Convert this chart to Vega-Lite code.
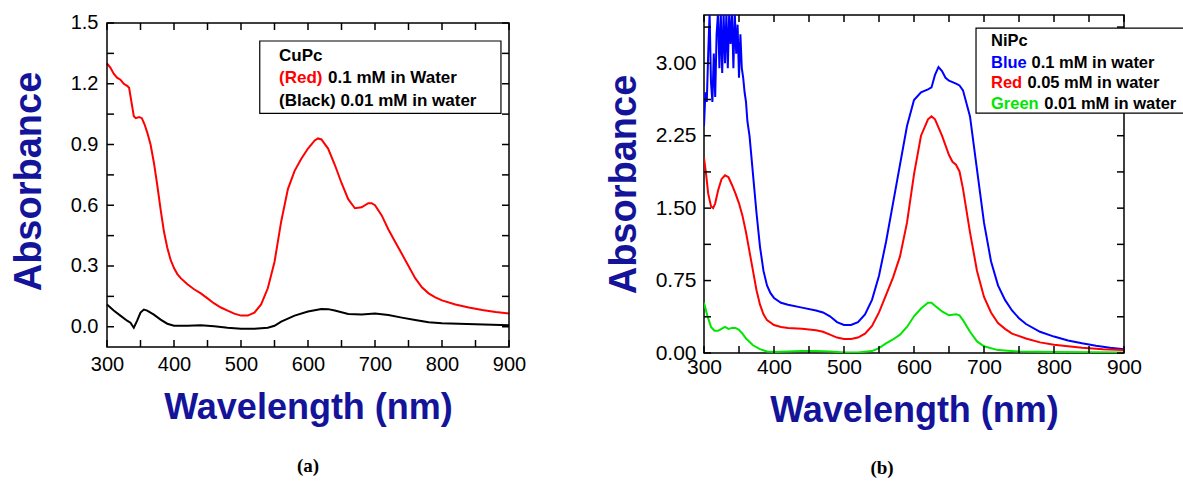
{
  "$schema": "https://vega.github.io/schema/vega-lite/v6.json",
  "padding": {"left": 10, "top": 12, "right": 0, "bottom": 5},
  "spacing": 78,
  "resolve": {"scale": {"color": "independent"}},
  "config": {
    "view": {"stroke": "black", "strokeWidth": 1.5},
    "axis": {
      "domain": false, "grid": false, "ticks": false, "tickSize": 0,
      "labelFont": "Liberation Sans", "titleFont": "Liberation Sans", "labelColor": "black",
      "titleColor": "#14149a", "titleFontWeight": "bold", "labelOverlap": false, "labelFlush": false,
      "labelFontSize": 20, "titleFontSize": 36
    },
    "text": {"font": "Liberation Sans", "fontWeight": "bold", "align": "left", "baseline": "middle"}
  },
  "datasets": {
    "xt": [{"wl":300},{"wl":350},{"wl":400},{"wl":450},{"wl":500},{"wl":550},{"wl":600},{"wl":650},{"wl":700},{"wl":750},{"wl":800},{"wl":850},{"wl":900}],
    "yta": [{"a":0},{"a":0.15},{"a":0.3},{"a":0.45},{"a":0.6},{"a":0.75},{"a":0.9},{"a":1.05},{"a":1.2},{"a":1.35},{"a":1.5}],
    "ytb": [{"a":0},{"a":0.375},{"a":0.75},{"a":1.125},{"a":1.5},{"a":1.875},{"a":2.25},{"a":2.625},{"a":3.0},{"a":3.375}],
    "cupc": [
      {"wl":300,"a":1.30,"s":"0.1 mM"},{"wl":305,"a":1.28,"s":"0.1 mM"},{"wl":310,"a":1.25,"s":"0.1 mM"},{"wl":315,"a":1.23,"s":"0.1 mM"},{"wl":320,"a":1.22,"s":"0.1 mM"},{"wl":325,"a":1.20,"s":"0.1 mM"},{"wl":330,"a":1.19,"s":"0.1 mM"},{"wl":333,"a":1.18,"s":"0.1 mM"},{"wl":337,"a":1.10,"s":"0.1 mM"},{"wl":340,"a":1.04,"s":"0.1 mM"},{"wl":343,"a":1.03,"s":"0.1 mM"},{"wl":348,"a":1.035,"s":"0.1 mM"},{"wl":352,"a":1.03,"s":"0.1 mM"},{"wl":356,"a":1.00,"s":"0.1 mM"},{"wl":360,"a":0.96,"s":"0.1 mM"},{"wl":365,"a":0.90,"s":"0.1 mM"},{"wl":370,"a":0.81,"s":"0.1 mM"},{"wl":375,"a":0.70,"s":"0.1 mM"},{"wl":380,"a":0.58,"s":"0.1 mM"},{"wl":385,"a":0.47,"s":"0.1 mM"},{"wl":390,"a":0.39,"s":"0.1 mM"},{"wl":395,"a":0.33,"s":"0.1 mM"},{"wl":400,"a":0.29,"s":"0.1 mM"},{"wl":405,"a":0.26,"s":"0.1 mM"},{"wl":410,"a":0.24,"s":"0.1 mM"},{"wl":420,"a":0.21,"s":"0.1 mM"},{"wl":430,"a":0.185,"s":"0.1 mM"},{"wl":440,"a":0.165,"s":"0.1 mM"},{"wl":450,"a":0.14,"s":"0.1 mM"},{"wl":460,"a":0.115,"s":"0.1 mM"},{"wl":470,"a":0.095,"s":"0.1 mM"},{"wl":480,"a":0.08,"s":"0.1 mM"},{"wl":490,"a":0.065,"s":"0.1 mM"},{"wl":500,"a":0.055,"s":"0.1 mM"},{"wl":510,"a":0.055,"s":"0.1 mM"},{"wl":520,"a":0.07,"s":"0.1 mM"},{"wl":530,"a":0.11,"s":"0.1 mM"},{"wl":540,"a":0.19,"s":"0.1 mM"},{"wl":550,"a":0.32,"s":"0.1 mM"},{"wl":560,"a":0.52,"s":"0.1 mM"},{"wl":570,"a":0.68,"s":"0.1 mM"},{"wl":580,"a":0.77,"s":"0.1 mM"},{"wl":590,"a":0.83,"s":"0.1 mM"},{"wl":600,"a":0.88,"s":"0.1 mM"},{"wl":610,"a":0.92,"s":"0.1 mM"},{"wl":615,"a":0.93,"s":"0.1 mM"},{"wl":620,"a":0.925,"s":"0.1 mM"},{"wl":630,"a":0.88,"s":"0.1 mM"},{"wl":640,"a":0.80,"s":"0.1 mM"},{"wl":650,"a":0.71,"s":"0.1 mM"},{"wl":660,"a":0.63,"s":"0.1 mM"},{"wl":670,"a":0.585,"s":"0.1 mM"},{"wl":680,"a":0.59,"s":"0.1 mM"},{"wl":690,"a":0.61,"s":"0.1 mM"},{"wl":695,"a":0.61,"s":"0.1 mM"},{"wl":700,"a":0.60,"s":"0.1 mM"},{"wl":710,"a":0.55,"s":"0.1 mM"},{"wl":720,"a":0.48,"s":"0.1 mM"},{"wl":730,"a":0.42,"s":"0.1 mM"},{"wl":740,"a":0.36,"s":"0.1 mM"},{"wl":750,"a":0.30,"s":"0.1 mM"},{"wl":760,"a":0.24,"s":"0.1 mM"},{"wl":770,"a":0.195,"s":"0.1 mM"},{"wl":780,"a":0.165,"s":"0.1 mM"},{"wl":790,"a":0.145,"s":"0.1 mM"},{"wl":800,"a":0.13,"s":"0.1 mM"},{"wl":820,"a":0.11,"s":"0.1 mM"},{"wl":840,"a":0.095,"s":"0.1 mM"},{"wl":860,"a":0.083,"s":"0.1 mM"},{"wl":880,"a":0.073,"s":"0.1 mM"},{"wl":900,"a":0.065,"s":"0.1 mM"},
      {"wl":300,"a":0.11,"s":"0.01 mM"},{"wl":310,"a":0.08,"s":"0.01 mM"},{"wl":320,"a":0.055,"s":"0.01 mM"},{"wl":330,"a":0.03,"s":"0.01 mM"},{"wl":335,"a":0.02,"s":"0.01 mM"},{"wl":340,"a":-0.005,"s":"0.01 mM"},{"wl":345,"a":0.03,"s":"0.01 mM"},{"wl":350,"a":0.07,"s":"0.01 mM"},{"wl":355,"a":0.085,"s":"0.01 mM"},{"wl":360,"a":0.08,"s":"0.01 mM"},{"wl":370,"a":0.06,"s":"0.01 mM"},{"wl":380,"a":0.035,"s":"0.01 mM"},{"wl":390,"a":0.015,"s":"0.01 mM"},{"wl":400,"a":0.005,"s":"0.01 mM"},{"wl":420,"a":0.005,"s":"0.01 mM"},{"wl":440,"a":0.008,"s":"0.01 mM"},{"wl":460,"a":0.003,"s":"0.01 mM"},{"wl":480,"a":-0.005,"s":"0.01 mM"},{"wl":500,"a":-0.01,"s":"0.01 mM"},{"wl":520,"a":-0.01,"s":"0.01 mM"},{"wl":540,"a":-0.005,"s":"0.01 mM"},{"wl":550,"a":0.005,"s":"0.01 mM"},{"wl":560,"a":0.025,"s":"0.01 mM"},{"wl":580,"a":0.055,"s":"0.01 mM"},{"wl":600,"a":0.075,"s":"0.01 mM"},{"wl":620,"a":0.088,"s":"0.01 mM"},{"wl":630,"a":0.087,"s":"0.01 mM"},{"wl":640,"a":0.08,"s":"0.01 mM"},{"wl":660,"a":0.063,"s":"0.01 mM"},{"wl":680,"a":0.06,"s":"0.01 mM"},{"wl":700,"a":0.065,"s":"0.01 mM"},{"wl":720,"a":0.058,"s":"0.01 mM"},{"wl":740,"a":0.045,"s":"0.01 mM"},{"wl":760,"a":0.033,"s":"0.01 mM"},{"wl":780,"a":0.022,"s":"0.01 mM"},{"wl":800,"a":0.017,"s":"0.01 mM"},{"wl":850,"a":0.012,"s":"0.01 mM"},{"wl":900,"a":0.008,"s":"0.01 mM"}
    ],
    "nipc": [
      {"wl":300,"a":2.35,"s":"0.1 mM"},{"wl":302,"a":2.7,"s":"0.1 mM"},{"wl":304,"a":2.6,"s":"0.1 mM"},{"wl":306,"a":3.1,"s":"0.1 mM"},{"wl":308,"a":3.52,"s":"0.1 mM"},{"wl":310,"a":2.8,"s":"0.1 mM"},{"wl":312,"a":2.6,"s":"0.1 mM"},{"wl":314,"a":3.1,"s":"0.1 mM"},{"wl":316,"a":2.65,"s":"0.1 mM"},{"wl":318,"a":3.3,"s":"0.1 mM"},{"wl":320,"a":3.52,"s":"0.1 mM"},{"wl":322,"a":2.95,"s":"0.1 mM"},{"wl":324,"a":3.52,"s":"0.1 mM"},{"wl":326,"a":2.9,"s":"0.1 mM"},{"wl":328,"a":3.52,"s":"0.1 mM"},{"wl":330,"a":3.0,"s":"0.1 mM"},{"wl":332,"a":3.52,"s":"0.1 mM"},{"wl":334,"a":2.95,"s":"0.1 mM"},{"wl":336,"a":3.52,"s":"0.1 mM"},{"wl":338,"a":3.2,"s":"0.1 mM"},{"wl":340,"a":3.52,"s":"0.1 mM"},{"wl":342,"a":2.95,"s":"0.1 mM"},{"wl":344,"a":3.52,"s":"0.1 mM"},{"wl":346,"a":3.1,"s":"0.1 mM"},{"wl":348,"a":3.4,"s":"0.1 mM"},{"wl":350,"a":2.85,"s":"0.1 mM"},{"wl":352,"a":3.3,"s":"0.1 mM"},{"wl":354,"a":2.95,"s":"0.1 mM"},{"wl":356,"a":2.85,"s":"0.1 mM"},{"wl":358,"a":2.7,"s":"0.1 mM"},{"wl":360,"a":2.6,"s":"0.1 mM"},{"wl":362,"a":2.4,"s":"0.1 mM"},{"wl":365,"a":2.25,"s":"0.1 mM"},{"wl":370,"a":1.85,"s":"0.1 mM"},{"wl":375,"a":1.45,"s":"0.1 mM"},{"wl":380,"a":1.1,"s":"0.1 mM"},{"wl":385,"a":0.85,"s":"0.1 mM"},{"wl":390,"a":0.7,"s":"0.1 mM"},{"wl":395,"a":0.62,"s":"0.1 mM"},{"wl":400,"a":0.57,"s":"0.1 mM"},{"wl":410,"a":0.52,"s":"0.1 mM"},{"wl":420,"a":0.5,"s":"0.1 mM"},{"wl":440,"a":0.47,"s":"0.1 mM"},{"wl":460,"a":0.44,"s":"0.1 mM"},{"wl":470,"a":0.42,"s":"0.1 mM"},{"wl":480,"a":0.38,"s":"0.1 mM"},{"wl":490,"a":0.32,"s":"0.1 mM"},{"wl":500,"a":0.29,"s":"0.1 mM"},{"wl":510,"a":0.29,"s":"0.1 mM"},{"wl":520,"a":0.32,"s":"0.1 mM"},{"wl":530,"a":0.4,"s":"0.1 mM"},{"wl":540,"a":0.55,"s":"0.1 mM"},{"wl":550,"a":0.8,"s":"0.1 mM"},{"wl":560,"a":1.15,"s":"0.1 mM"},{"wl":570,"a":1.55,"s":"0.1 mM"},{"wl":580,"a":1.95,"s":"0.1 mM"},{"wl":590,"a":2.35,"s":"0.1 mM"},{"wl":600,"a":2.62,"s":"0.1 mM"},{"wl":610,"a":2.7,"s":"0.1 mM"},{"wl":620,"a":2.73,"s":"0.1 mM"},{"wl":625,"a":2.75,"s":"0.1 mM"},{"wl":630,"a":2.88,"s":"0.1 mM"},{"wl":635,"a":2.96,"s":"0.1 mM"},{"wl":640,"a":2.92,"s":"0.1 mM"},{"wl":645,"a":2.85,"s":"0.1 mM"},{"wl":650,"a":2.82,"s":"0.1 mM"},{"wl":660,"a":2.79,"s":"0.1 mM"},{"wl":665,"a":2.77,"s":"0.1 mM"},{"wl":670,"a":2.72,"s":"0.1 mM"},{"wl":680,"a":2.45,"s":"0.1 mM"},{"wl":690,"a":1.9,"s":"0.1 mM"},{"wl":700,"a":1.35,"s":"0.1 mM"},{"wl":710,"a":0.95,"s":"0.1 mM"},{"wl":720,"a":0.7,"s":"0.1 mM"},{"wl":730,"a":0.55,"s":"0.1 mM"},{"wl":740,"a":0.44,"s":"0.1 mM"},{"wl":750,"a":0.36,"s":"0.1 mM"},{"wl":760,"a":0.3,"s":"0.1 mM"},{"wl":780,"a":0.22,"s":"0.1 mM"},{"wl":800,"a":0.17,"s":"0.1 mM"},{"wl":820,"a":0.13,"s":"0.1 mM"},{"wl":840,"a":0.1,"s":"0.1 mM"},{"wl":860,"a":0.075,"s":"0.1 mM"},{"wl":880,"a":0.055,"s":"0.1 mM"},{"wl":900,"a":0.04,"s":"0.1 mM"},
      {"wl":300,"a":2.02,"s":"0.05 mM"},{"wl":303,"a":1.85,"s":"0.05 mM"},{"wl":306,"a":1.65,"s":"0.05 mM"},{"wl":310,"a":1.52,"s":"0.05 mM"},{"wl":313,"a":1.5,"s":"0.05 mM"},{"wl":316,"a":1.55,"s":"0.05 mM"},{"wl":320,"a":1.68,"s":"0.05 mM"},{"wl":325,"a":1.8,"s":"0.05 mM"},{"wl":330,"a":1.84,"s":"0.05 mM"},{"wl":335,"a":1.82,"s":"0.05 mM"},{"wl":340,"a":1.74,"s":"0.05 mM"},{"wl":345,"a":1.65,"s":"0.05 mM"},{"wl":350,"a":1.55,"s":"0.05 mM"},{"wl":355,"a":1.42,"s":"0.05 mM"},{"wl":360,"a":1.25,"s":"0.05 mM"},{"wl":365,"a":1.05,"s":"0.05 mM"},{"wl":370,"a":0.85,"s":"0.05 mM"},{"wl":375,"a":0.65,"s":"0.05 mM"},{"wl":380,"a":0.5,"s":"0.05 mM"},{"wl":385,"a":0.4,"s":"0.05 mM"},{"wl":390,"a":0.34,"s":"0.05 mM"},{"wl":400,"a":0.29,"s":"0.05 mM"},{"wl":410,"a":0.27,"s":"0.05 mM"},{"wl":420,"a":0.26,"s":"0.05 mM"},{"wl":440,"a":0.25,"s":"0.05 mM"},{"wl":460,"a":0.235,"s":"0.05 mM"},{"wl":470,"a":0.22,"s":"0.05 mM"},{"wl":480,"a":0.19,"s":"0.05 mM"},{"wl":490,"a":0.16,"s":"0.05 mM"},{"wl":500,"a":0.145,"s":"0.05 mM"},{"wl":510,"a":0.145,"s":"0.05 mM"},{"wl":520,"a":0.16,"s":"0.05 mM"},{"wl":530,"a":0.2,"s":"0.05 mM"},{"wl":540,"a":0.28,"s":"0.05 mM"},{"wl":550,"a":0.42,"s":"0.05 mM"},{"wl":560,"a":0.6,"s":"0.05 mM"},{"wl":570,"a":0.78,"s":"0.05 mM"},{"wl":580,"a":1.0,"s":"0.05 mM"},{"wl":590,"a":1.35,"s":"0.05 mM"},{"wl":600,"a":1.85,"s":"0.05 mM"},{"wl":610,"a":2.25,"s":"0.05 mM"},{"wl":620,"a":2.42,"s":"0.05 mM"},{"wl":625,"a":2.45,"s":"0.05 mM"},{"wl":630,"a":2.42,"s":"0.05 mM"},{"wl":640,"a":2.25,"s":"0.05 mM"},{"wl":650,"a":2.05,"s":"0.05 mM"},{"wl":655,"a":1.98,"s":"0.05 mM"},{"wl":660,"a":1.95,"s":"0.05 mM"},{"wl":665,"a":1.88,"s":"0.05 mM"},{"wl":670,"a":1.7,"s":"0.05 mM"},{"wl":680,"a":1.25,"s":"0.05 mM"},{"wl":690,"a":0.85,"s":"0.05 mM"},{"wl":700,"a":0.58,"s":"0.05 mM"},{"wl":710,"a":0.42,"s":"0.05 mM"},{"wl":720,"a":0.31,"s":"0.05 mM"},{"wl":730,"a":0.25,"s":"0.05 mM"},{"wl":740,"a":0.2,"s":"0.05 mM"},{"wl":760,"a":0.15,"s":"0.05 mM"},{"wl":780,"a":0.11,"s":"0.05 mM"},{"wl":800,"a":0.085,"s":"0.05 mM"},{"wl":840,"a":0.055,"s":"0.05 mM"},{"wl":870,"a":0.04,"s":"0.05 mM"},{"wl":900,"a":0.03,"s":"0.05 mM"},
      {"wl":300,"a":0.52,"s":"0.01 mM"},{"wl":305,"a":0.38,"s":"0.01 mM"},{"wl":310,"a":0.27,"s":"0.01 mM"},{"wl":315,"a":0.23,"s":"0.01 mM"},{"wl":320,"a":0.23,"s":"0.01 mM"},{"wl":325,"a":0.25,"s":"0.01 mM"},{"wl":330,"a":0.27,"s":"0.01 mM"},{"wl":335,"a":0.25,"s":"0.01 mM"},{"wl":340,"a":0.26,"s":"0.01 mM"},{"wl":345,"a":0.26,"s":"0.01 mM"},{"wl":350,"a":0.24,"s":"0.01 mM"},{"wl":355,"a":0.2,"s":"0.01 mM"},{"wl":360,"a":0.15,"s":"0.01 mM"},{"wl":370,"a":0.08,"s":"0.01 mM"},{"wl":380,"a":0.04,"s":"0.01 mM"},{"wl":390,"a":0.015,"s":"0.01 mM"},{"wl":400,"a":0.01,"s":"0.01 mM"},{"wl":420,"a":0.015,"s":"0.01 mM"},{"wl":440,"a":0.02,"s":"0.01 mM"},{"wl":460,"a":0.02,"s":"0.01 mM"},{"wl":480,"a":0.015,"s":"0.01 mM"},{"wl":500,"a":0.005,"s":"0.01 mM"},{"wl":520,"a":0.005,"s":"0.01 mM"},{"wl":540,"a":0.02,"s":"0.01 mM"},{"wl":550,"a":0.05,"s":"0.01 mM"},{"wl":560,"a":0.1,"s":"0.01 mM"},{"wl":570,"a":0.14,"s":"0.01 mM"},{"wl":580,"a":0.19,"s":"0.01 mM"},{"wl":590,"a":0.27,"s":"0.01 mM"},{"wl":600,"a":0.38,"s":"0.01 mM"},{"wl":610,"a":0.46,"s":"0.01 mM"},{"wl":620,"a":0.52,"s":"0.01 mM"},{"wl":625,"a":0.52,"s":"0.01 mM"},{"wl":630,"a":0.49,"s":"0.01 mM"},{"wl":640,"a":0.43,"s":"0.01 mM"},{"wl":650,"a":0.39,"s":"0.01 mM"},{"wl":660,"a":0.4,"s":"0.01 mM"},{"wl":665,"a":0.39,"s":"0.01 mM"},{"wl":670,"a":0.34,"s":"0.01 mM"},{"wl":680,"a":0.22,"s":"0.01 mM"},{"wl":690,"a":0.12,"s":"0.01 mM"},{"wl":700,"a":0.07,"s":"0.01 mM"},{"wl":720,"a":0.03,"s":"0.01 mM"},{"wl":750,"a":0.015,"s":"0.01 mM"},{"wl":800,"a":0.01,"s":"0.01 mM"},{"wl":900,"a":0.005,"s":"0.01 mM"}
    ],
    "one": [{}]
  },
  "hconcat": [
    {
      "width": 402, "height": 332,
      "view": {"stroke": null},
      "title": {"text": "(a)", "orient": "bottom", "font": "Liberation Serif", "fontSize": 19, "fontWeight": "bold", "color": "black", "offset": 32},
      "layer": [
        {
          "data": {"name": "cupc"},
          "mark": {"type": "line", "strokeWidth": 2},
          "encoding": {
            "x": {"field": "wl", "type": "quantitative", "scale": {"domain": [300, 900], "nice": false, "zero": false},
                  "axis": {"orient": "bottom", "values": [300,400,500,600,700,800,900], "title": "Wavelength (nm)", "labelPadding": 7, "titlePadding": 16}},
            "y": {"field": "a", "type": "quantitative", "scale": {"domain": [-0.1, 1.5395], "nice": false, "zero": false},
                  "axis": {"orient": "left", "values": [0,0.3,0.6,0.9,1.2,1.5], "format": ".1f", "title": "Absorbance", "titleFontSize": 38, "labelPadding": 9, "titlePadding": 22}},
            "color": {"field": "s", "type": "nominal", "scale": {"domain": ["0.1 mM", "0.01 mM"], "range": ["#ff0000", "#000000"]}, "legend": null}
          }
        },
        {
          "data": {"name": "one"},
          "mark": {"type": "rect", "fill": "transparent", "stroke": "black", "strokeWidth": 1.5},
          "encoding": {
            "x": {"datum": 300, "type": "quantitative"}, "x2": {"datum": 900},
            "y": {"datum": -0.1, "type": "quantitative"}, "y2": {"datum": 1.5}
          }
        },
        {"data": {"name": "xt"}, "mark": {"type": "tick", "orient": "vertical", "color": "black", "opacity": 1, "size": 7, "thickness": 1.5, "yOffset": -3.5}, "encoding": {"x": {"field": "wl", "type": "quantitative"}, "y": {"datum": -0.1, "type": "quantitative"}}},
        {"data": {"name": "xt"}, "mark": {"type": "tick", "orient": "vertical", "color": "black", "opacity": 1, "size": 7, "thickness": 1.5, "yOffset": 3.5}, "encoding": {"x": {"field": "wl", "type": "quantitative"}, "y": {"datum": 1.5, "type": "quantitative"}}},
        {"data": {"name": "yta"}, "mark": {"type": "tick", "orient": "horizontal", "color": "black", "opacity": 1, "size": 7, "thickness": 1.5, "xOffset": 3.5}, "encoding": {"y": {"field": "a", "type": "quantitative"}, "x": {"datum": 300, "type": "quantitative"}}},
        {"data": {"name": "yta"}, "mark": {"type": "tick", "orient": "horizontal", "color": "black", "opacity": 1, "size": 7, "thickness": 1.5, "xOffset": -3.5}, "encoding": {"y": {"field": "a", "type": "quantitative"}, "x": {"datum": 900, "type": "quantitative"}}},
        {
          "data": {"name": "one"},
          "mark": {"type": "rect", "fill": "white", "stroke": "black", "strokeWidth": 1.2},
          "encoding": {
            "x": {"datum": 528, "type": "quantitative"}, "x2": {"datum": 888},
            "y": {"datum": 1.411, "type": "quantitative"}, "y2": {"datum": 1.054}
          }
        },
        {
          "data": {"name": "one"},
          "mark": {"type": "text", "fontSize": 17, "color": "black", "text": "CuPc"},
          "encoding": {"x": {"datum": 556.7, "type": "quantitative"}, "y": {"datum": 1.337, "type": "quantitative"}}
        },
        {
          "data": {"name": "one"},
          "mark": {"type": "text", "fontSize": 17, "color": "#ff0000", "text": "(Red)"},
          "encoding": {"x": {"datum": 556.7, "type": "quantitative"}, "y": {"datum": 1.228, "type": "quantitative"}}
        },
        {
          "data": {"name": "one"},
          "mark": {"type": "text", "fontSize": 17, "color": "black", "text": "0.1 mM in Water"},
          "encoding": {"x": {"datum": 630, "type": "quantitative"}, "y": {"datum": 1.228, "type": "quantitative"}}
        },
        {
          "data": {"name": "one"},
          "mark": {"type": "text", "fontSize": 17, "color": "black", "text": "(Black) 0.01 mM in water"},
          "encoding": {"x": {"datum": 556.7, "type": "quantitative"}, "y": {"datum": 1.114, "type": "quantitative"}}
        }
      ]
    },
    {
      "width": 420, "height": 338,
      "title": {"text": "(b)", "orient": "bottom", "font": "Liberation Serif", "fontSize": 19, "fontWeight": "bold", "color": "black", "offset": 31, "dx": -32},
      "layer": [
        {
          "data": {"name": "nipc"},
          "mark": {"type": "line", "strokeWidth": 2, "clip": true},
          "encoding": {
            "x": {"field": "wl", "type": "quantitative", "scale": {"domain": [300, 900], "nice": false, "zero": false},
                  "axis": {"orient": "bottom", "values": [300,400,500,600,700,800,900], "title": "Wavelength (nm)", "labelFontSize": 21, "labelPadding": 3, "titlePadding": 16}},
            "y": {"field": "a", "type": "quantitative", "scale": {"domain": [0, 3.5], "nice": false, "zero": false},
                  "axis": {"orient": "left", "values": [0,0.75,1.5,2.25,3.0], "format": ".2f", "title": "Absorbance", "titleFontSize": 38, "labelFontSize": 21, "labelPadding": 8, "titlePadding": 12}},
            "color": {"field": "s", "type": "nominal", "scale": {"domain": ["0.1 mM", "0.05 mM", "0.01 mM"], "range": ["#0000ff", "#ff0000", "#00e600"]}, "legend": null}
          }
        },
        {"data": {"name": "xt"}, "mark": {"type": "tick", "orient": "vertical", "color": "black", "opacity": 1, "size": 7, "thickness": 1.5, "yOffset": -3.5}, "encoding": {"x": {"field": "wl", "type": "quantitative"}, "y": {"datum": 0, "type": "quantitative"}}},
        {"data": {"name": "xt"}, "mark": {"type": "tick", "orient": "vertical", "color": "black", "opacity": 1, "size": 7, "thickness": 1.5, "yOffset": 3.5}, "encoding": {"x": {"field": "wl", "type": "quantitative"}, "y": {"datum": 3.5, "type": "quantitative"}}},
        {"data": {"name": "ytb"}, "mark": {"type": "tick", "orient": "horizontal", "color": "black", "opacity": 1, "size": 7, "thickness": 1.5, "xOffset": 3.5}, "encoding": {"y": {"field": "a", "type": "quantitative"}, "x": {"datum": 300, "type": "quantitative"}}},
        {"data": {"name": "ytb"}, "mark": {"type": "tick", "orient": "horizontal", "color": "black", "opacity": 1, "size": 7, "thickness": 1.5, "xOffset": -3.5}, "encoding": {"y": {"field": "a", "type": "quantitative"}, "x": {"datum": 900, "type": "quantitative"}}},
        {
          "data": {"name": "one"},
          "mark": {"type": "rect", "fill": "white", "stroke": "black", "strokeWidth": 1.2},
          "encoding": {
            "x": {"datum": 688.6, "type": "quantitative"}, "x2": {"datum": 1000},
            "y": {"datum": 3.364, "type": "quantitative"}, "y2": {"datum": 2.484}
          }
        },
        {
          "data": {"name": "one"},
          "mark": {"type": "text", "fontSize": 16.5, "color": "black", "text": "NiPc"},
          "encoding": {"x": {"datum": 710, "type": "quantitative"}, "y": {"datum": 3.23, "type": "quantitative"}}
        },
        {
          "data": {"name": "one"},
          "mark": {"type": "text", "fontSize": 16.5, "color": "#0000ff", "text": "Blue"},
          "encoding": {"x": {"datum": 710, "type": "quantitative"}, "y": {"datum": 3.0, "type": "quantitative"}}
        },
        {
          "data": {"name": "one"},
          "mark": {"type": "text", "fontSize": 16.5, "color": "black", "text": "0.1 mM in water"},
          "encoding": {"x": {"datum": 768, "type": "quantitative"}, "y": {"datum": 3.0, "type": "quantitative"}}
        },
        {
          "data": {"name": "one"},
          "mark": {"type": "text", "fontSize": 16.5, "color": "#ff0000", "text": "Red"},
          "encoding": {"x": {"datum": 710, "type": "quantitative"}, "y": {"datum": 2.795, "type": "quantitative"}}
        },
        {
          "data": {"name": "one"},
          "mark": {"type": "text", "fontSize": 16.5, "color": "black", "text": "0.05 mM in water"},
          "encoding": {"x": {"datum": 762, "type": "quantitative"}, "y": {"datum": 2.795, "type": "quantitative"}}
        },
        {
          "data": {"name": "one"},
          "mark": {"type": "text", "fontSize": 16.5, "color": "#00e600", "text": "Green"},
          "encoding": {"x": {"datum": 710, "type": "quantitative"}, "y": {"datum": 2.578, "type": "quantitative"}}
        },
        {
          "data": {"name": "one"},
          "mark": {"type": "text", "fontSize": 16.5, "color": "black", "text": "0.01 mM in water"},
          "encoding": {"x": {"datum": 786, "type": "quantitative"}, "y": {"datum": 2.578, "type": "quantitative"}}
        }
      ]
    }
  ]
}
